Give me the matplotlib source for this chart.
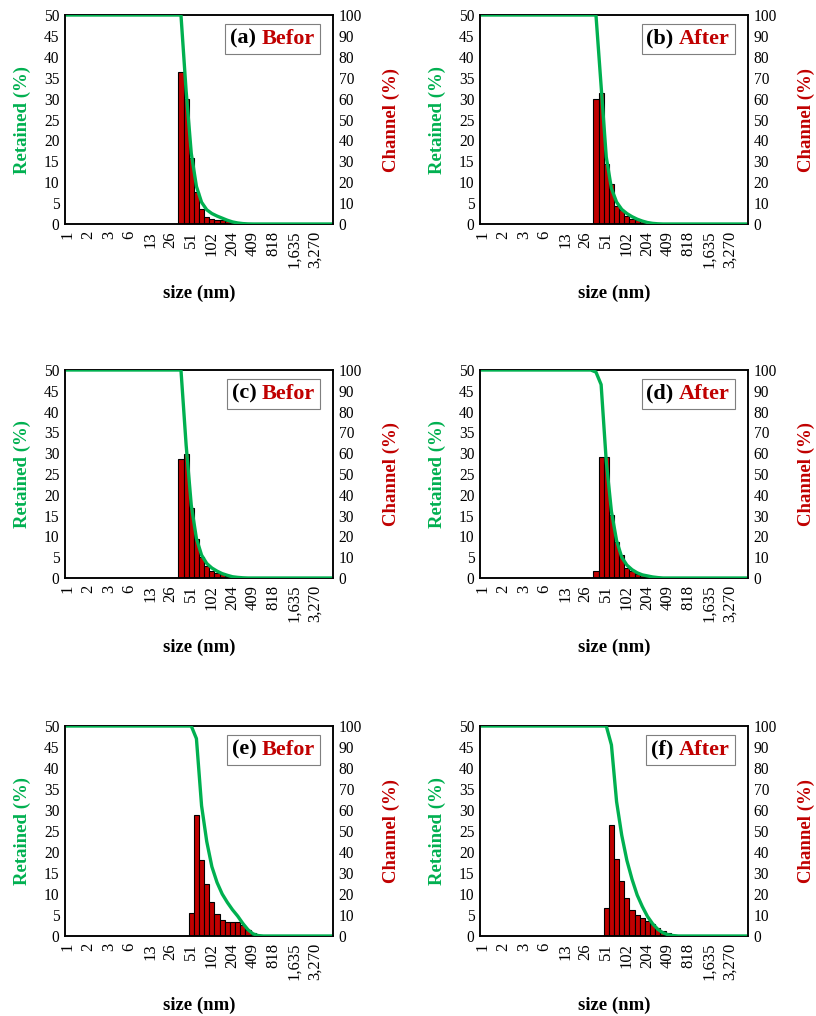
import matplotlib
matplotlib.use("Agg")
import matplotlib.pyplot as plt
import numpy as np
from matplotlib.offsetbox import AnchoredOffsetbox, TextArea, HPacker

plt.rcParams['font.family'] = ['Liberation Serif', 'DejaVu Serif']

# ---------------- data ----------------
n_bins = 52
tick_labels = ['1', '2', '3', '6', '13', '26', '51', '102', '204', '409', '818', '1,635', '3,270']
tick_step = 4

panel_tags = ['(a)', '(b)', '(c)', '(d)', '(e)', '(f)']
panel_words = ['Befor', 'After', 'Befor', 'After', 'Befor', 'After']

# first non-empty size bin of each sample
first_bin = [22, 22, 22, 22, 24, 24]

# Channel (%) bars, starting at first_bin
chan_a = [36.3, 29.9, 15.8, 7.6, 3.6, 1.75, 1.27, 1.0, 0.95, 0.8, 0.55, 0.3, 0.15]
chan_b = [29.9, 31.4, 14.4, 9.6, 4.2, 3.3, 2.0, 1.2, 0.9, 0.6, 0.4, 0.2]
chan_c = [28.5, 29.7, 16.9, 9.4, 5.1, 2.9, 1.8, 1.2, 0.9, 0.6, 0.3, 0.15]
chan_d = [1.6, 29.2, 29.0, 15.1, 8.6, 5.5, 2.4, 1.6, 0.9, 0.7, 0.5, 0.2]
chan_e = [5.4, 28.9, 18.2, 12.4, 8.0, 5.3, 3.8, 3.3, 3.3, 3.4, 2.6, 1.4, 0.6]
chan_f = [6.7, 26.5, 18.3, 13.2, 9.0, 6.3, 5.0, 4.3, 3.6, 2.9, 2.0, 1.3, 0.7, 0.3]

# Retained (%) curve, starting at first_bin (100 before, 0 after)
ret_a = [100, 63.7, 33.8, 18.0, 10.4, 6.8, 5.0, 3.8, 2.8, 1.8, 1.0, 0.5, 0.2, 0.05, 0]
ret_b = [100, 66.0, 32.0, 17.0, 10.5, 7.0, 5.0, 3.5, 2.3, 1.4, 0.7, 0.3, 0.1, 0]
ret_c = [100, 64.0, 35.0, 19.0, 11.0, 7.0, 4.8, 3.3, 2.1, 1.3, 0.6, 0.3, 0.1, 0]
ret_d = [99.0, 93.0, 56.0, 32.0, 18.0, 10.0, 6.2, 4.0, 2.5, 1.5, 1.0, 0.5, 0.2, 0]
ret_e = [100, 94, 62, 45, 33, 25.5, 20, 16, 12.5, 9.5, 6, 3, 1, 0.2, 0]
ret_f = [100, 91, 64, 48, 36, 27, 19.5, 14, 9.3, 5.8, 3.2, 1.5, 0.6, 0.2, 0]

channels = [chan_a, chan_b, chan_c, chan_d, chan_e, chan_f]
retained = [ret_a, ret_b, ret_c, ret_d, ret_e, ret_f]

GREEN = '#00B050'
RED = '#C00000'

fig = plt.figure(figsize=(8.16, 10.16), dpi=100)
W, H = 816, 1016
col_x = [65, 480]
ax_w = 268
rows = [(15, 224), (370, 578), (726, 936)]

for i in range(6):
    r, c = divmod(i, 2)
    top, bot = rows[r]
    ax_h = bot - top
    ax = fig.add_axes([col_x[c] / W, 1 - bot / H, ax_w / W, ax_h / H])
    ax2 = ax.twinx()

    x = np.arange(n_bins)
    ch = np.zeros(n_bins)
    ch[first_bin[i]:first_bin[i] + len(channels[i])] = channels[i]
    rt = np.zeros(n_bins)
    rt[:first_bin[i]] = 100
    rt[first_bin[i]:first_bin[i] + len(retained[i])] = retained[i]

    ax.bar(x, ch, width=1.0, color=RED, edgecolor='black', linewidth=0.8, zorder=2)
    ax2.plot(x, rt, color=GREEN, lw=2.4, solid_joinstyle='round', zorder=3)

    ax.set_xlim(-0.5, n_bins - 0.5)
    ax.set_ylim(0, 50)
    ax2.set_ylim(0, 100)
    ax.set_yticks(np.arange(0, 51, 5))
    ax2.set_yticks(np.arange(0, 101, 10))
    ax.set_xticks(np.arange(0, len(tick_labels) * tick_step, tick_step))
    ax.set_xticklabels(tick_labels, rotation=90, fontsize=12)
    ax.tick_params(axis='x', length=0, pad=5)
    ax.tick_params(axis='y', length=0, pad=4, labelsize=11.2)
    ax2.tick_params(axis='y', length=0, pad=4, labelsize=11.2)

    for a in (ax, ax2):
        for s in a.spines.values():
            s.set_linewidth(1.1)
            s.set_color('black')

    ax.set_ylabel('Retained (%)', color=GREEN, fontsize=13.5, fontweight='bold')
    ax.yaxis.set_label_coords(-34 / ax_w, 0.5)
    ax2.set_ylabel('Channel (%)', color=RED, fontsize=13.5, fontweight='bold')
    ax2.yaxis.set_label_coords(1 + 50 / ax_w, 0.5)
    ax.set_xlabel('size (nm)', fontsize=13.5, fontweight='bold')
    ax.xaxis.set_label_coords(0.5, -61 / ax_h)

    t1 = TextArea(panel_tags[i] + ' ', textprops=dict(color='black', fontsize=16, fontweight='bold'))
    t2 = TextArea(panel_words[i], textprops=dict(color=RED, fontsize=16, fontweight='bold'))
    box = HPacker(children=[t1, t2], align='baseline', pad=0, sep=0)
    anch = AnchoredOffsetbox(loc='upper right', child=box, pad=0.35, borderpad=0,
                             frameon=True,
                             bbox_to_anchor=(1 - 13 / ax_w, 1 - 9 / ax_h),
                             bbox_transform=ax.transAxes)
    anch.patch.set_edgecolor('#7f7f7f')
    anch.patch.set_linewidth(0.8)
    ax2.add_artist(anch)

fig.savefig('out.png', dpi=100)
